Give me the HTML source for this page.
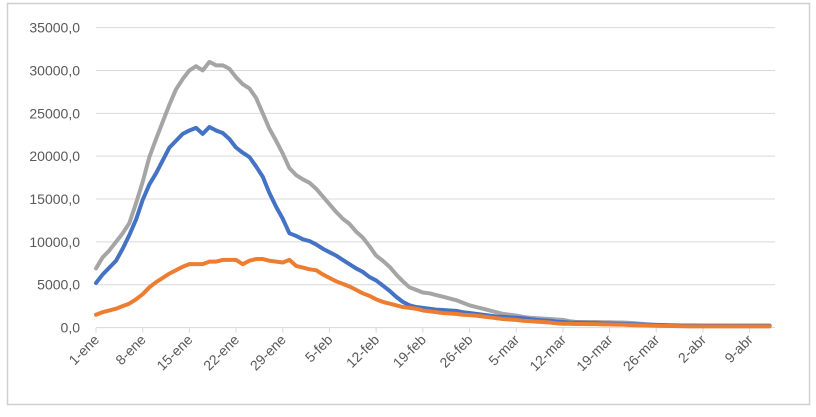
<!DOCTYPE html>
<html><head><meta charset="utf-8"><style>
body{margin:0;background:#fff;width:816px;height:412px;overflow:hidden;font-family:"Liberation Sans",sans-serif}
</style></head><body>
<svg id="chart" width="816" height="412" xmlns="http://www.w3.org/2000/svg">
<rect x="7.5" y="3.5" width="802" height="401" fill="#fff" stroke="#d0d0d0" stroke-width="1.5"/>
<g id="grid"></g><g id="axis"></g><g id="series"></g>
</svg>
<script>
const yTicks=[0,5000,10000,15000,20000,25000,30000,35000];
const yTickLabels=["0,0","5000,0","10000,0","15000,0","20000,0","25000,0","30000,0","35000,0"];
const xTickLabels=["1-ene","8-ene","15-ene","22-ene","29-ene","5-feb","12-feb","19-feb","26-feb","5-mar","12-mar","19-mar","26-mar","2-abr","9-abr"];
const grayValues=[6900,8200,9000,10000,11000,12200,14500,17000,19900,22000,24000,26000,27800,29000,30000,30500,30000,31000,30600,30600,30200,29200,28400,27900,26800,25000,23200,21800,20300,18600,17800,17300,16900,16200,15300,14400,13500,12700,12100,11200,10500,9500,8400,7800,7100,6200,5400,4700,4400,4100,4000,3800,3600,3400,3200,2900,2600,2400,2200,2000,1800,1600,1500,1400,1250,1150,1100,1050,1000,950,900,750,650,650,650,650,620,620,600,600,550,500,420,350,300,250,250,250,250,250,250,250,250,250,250,250,250,250,250,250,250,250];
const blueValues=[5200,6200,7000,7800,9200,10800,12600,14900,16700,18000,19500,21000,21800,22600,23000,23300,22600,23400,23000,22700,22000,21000,20400,19900,18800,17600,15700,14100,12700,11000,10700,10300,10100,9700,9200,8800,8400,7900,7400,6900,6500,5900,5500,4900,4300,3600,3000,2600,2400,2300,2200,2100,2050,2000,1950,1800,1700,1600,1500,1400,1300,1250,1200,1150,1100,1000,900,850,800,700,650,600,580,560,540,520,500,480,460,440,400,380,360,340,320,300,280,260,250,240,230,220,220,210,210,200,200,200,200,200,200,200];
const orangeValues=[1500,1800,2000,2200,2500,2800,3300,3900,4700,5300,5800,6300,6700,7100,7400,7400,7400,7700,7700,7900,7900,7900,7400,7800,8000,8000,7800,7700,7600,7900,7200,7000,6800,6700,6200,5800,5400,5100,4800,4400,4000,3700,3300,3000,2800,2600,2400,2300,2200,2000,1900,1800,1700,1650,1600,1500,1450,1400,1300,1200,1100,1000,950,900,800,750,700,650,600,500,450,450,420,420,400,400,380,380,350,350,300,280,260,240,220,200,180,170,160,150,150,150,150,150,150,150,150,150,150,150,150,150];
const NS="http://www.w3.org/2000/svg";
const X0=96,DX=6.67,Y0=327.6,YS=300/35000,XR=775;
const xs=i=>X0+i*DX, ys=v=>Y0-v*YS;
function mk(t,a,p){const e=document.createElementNS(NS,t);for(const k in a)e.setAttribute(k,a[k]);p.appendChild(e);return e;}
const grid=document.getElementById('grid'),axis=document.getElementById('axis'),ser=document.getElementById('series');
yTicks.forEach((v,i)=>{
 const l=mk('line',{x1:X0,x2:XR,y1:ys(v),y2:ys(v),stroke:'#d9d9d9','stroke-width':1},grid);
 
 
 const t=mk('text',{x:80,y:ys(v)+5,'text-anchor':'end','font-size':14,fill:'#595959'},axis);
 t.textContent=yTickLabels[i];
 
 
});
xTickLabels.forEach((s,i)=>{
 const x=xs(i*7);
 const tk=mk('line',{x1:x,x2:x,y1:Y0,y2:Y0+5,stroke:'#d9d9d9','stroke-width':1},axis);
 
 
 const t=mk('text',{x:x+4,y:Y0+13,'text-anchor':'end','font-size':14,fill:'#595959',transform:`rotate(-45 ${x+4} ${Y0+13})`},axis);
 t.textContent=s;
 
 
});
[[grayValues,'#a5a5a5','gray-series-line'],[blueValues,'#4472c4','blue-series-line'],[orangeValues,'#ed7d31','orange-series-line']].forEach(([d,c,n])=>{
 const p=mk('polyline',{points:d.map((v,i)=>xs(i)+','+ys(v)).join(' '),fill:'none',stroke:c,'stroke-width':4,'stroke-linejoin':'round','stroke-linecap':'round'},ser);
 
 
});
</script>
</body></html>
